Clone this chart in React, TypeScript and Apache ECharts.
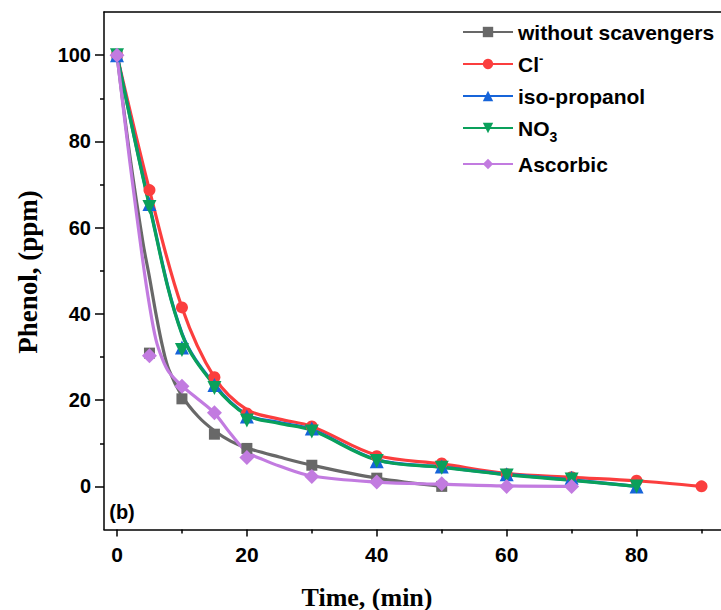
import React, { useEffect, useRef } from "react";
import * as echarts from "echarts";

// ---- data ----
const seriesNames = ["without scavengers", "Cl-", "iso-propanol", "NO3", "Ascorbic"];

// measured points (markers)
const grayPts = [[0, 100], [5, 30.9], [10, 20.3], [15, 12.1], [20, 8.8], [30, 4.9], [40, 1.9], [50, 0]];
const redPts = [[0, 100], [5, 68.7], [10, 41.5], [15, 25.3], [20, 16.9], [30, 13.9], [40, 7.0], [50, 5.3], [60, 2.8], [70, 2.1], [80, 1.3], [90, 0]];
const bluePts = [[0, 100], [5, 65.5], [10, 32.2], [15, 23.5], [20, 16.2], [30, 13.4], [40, 5.8], [50, 4.6], [60, 2.8], [70, 2.0], [80, 0]];
const greenPts = [[0, 100], [5, 64.8], [10, 31.6], [15, 22.8], [20, 15.3], [30, 12.7], [40, 5.9], [50, 4.3], [60, 2.5], [70, 1.6], [80, 0]];
const purplePts = [[0, 100], [5, 30.3], [10, 23.2], [15, 17.1], [20, 6.7], [30, 2.3], [40, 1.0], [50, 0.6], [60, 0], [70, 0]];

// fitted curves
const grayCurve = [[0, 100], [2, 76.5], [4, 56.5], [5, 48.5], [6, 40], [7, 32.5], [8, 27], [10, 21], [12.5, 16.2], [15, 12.9], [17.5, 10.5], [20, 8.9], [25, 6.8], [30, 4.9], [40, 1.9], [50, 0]];
const redCurve = [[0, 100], [5, 68.7], [10, 41.5], [15, 25.3], [20, 17.8], [25, 15.6], [30, 13.9], [40, 7.2], [50, 5.2], [60, 3.0], [70, 2.1], [80, 1.3], [90, 0]];
const blueCurve = [[0, 100], [5, 65.3], [10, 35.5], [15, 23.6], [20, 16.6], [25, 14.8], [30, 13.2], [40, 6.2], [50, 4.5], [60, 2.8], [70, 1.5], [80, 0]];
const greenCurve = [[0, 100], [5, 65], [10, 35.3], [15, 23.4], [20, 16.5], [25, 14.6], [30, 13], [40, 6.1], [50, 4.4], [60, 2.7], [70, 1.4], [80, 0]];
const purpleCurve = [[0, 100], [2, 75], [4, 52], [5, 42], [6, 34], [7, 29.5], [8, 26.5], [10, 23.3], [12.5, 20.2], [15, 17], [17.5, 12.2], [20, 8], [22.5, 6.2], [25, 4.7], [30, 2.4], [40, 1.0], [50, 0.5], [60, 0.1], [70, 0]];

const xLabelTicks = [0, 20, 40, 60, 80];
const xMinorTicks = [10, 30, 50, 70, 90];
const yLabelTicks = [0, 20, 40, 60, 80, 100];
const yMinorTicks = [10, 30, 50, 70, 90];

const colors = ["#686868", "#fb3e3e", "#1664d9", "#0aa05b", "#c27be0"];
const symbols = ["rect", "circle", "triangle", "triangle", "diamond"];
const symbolRotates = [0, 0, 0, 180, 0];
const symbolSizes = [11, 12, 14, 14, 15];

const curves = [grayCurve, redCurve, blueCurve, greenCurve, purpleCurve];
const points = [grayPts, redPts, bluePts, greenPts, purplePts];

export default function App() {
  const ref = useRef<HTMLDivElement>(null);
  useEffect(() => {
    if (!ref.current) return;
    const chart = echarts.init(ref.current, null, { renderer: "svg" });
    const axisFont = { fontFamily: "Liberation Sans, Arial, sans-serif", fontWeight: "bold", color: "#000" };
    const axisLineStyle = { color: "#000", width: 1.5 };

    const curveSeries = seriesNames.map((name, i) => ({
      name,
      type: "line",
      data: curves[i],
      smooth: 0.35,
      showSymbol: false,
      symbol: symbols[i],
      symbolRotate: symbolRotates[i],
      symbolSize: symbolSizes[i],
      lineStyle: { color: colors[i], width: 3.2 },
      itemStyle: { color: colors[i] },
      z: 2,
      silent: true,
    }));
    const pointSeries = seriesNames.map((name, i) => ({
      name,
      type: "scatter",
      data: points[i],
      symbol: symbols[i],
      symbolRotate: symbolRotates[i],
      symbolSize: symbolSizes[i],
      itemStyle: { color: colors[i], opacity: 1 },
      z: 3,
      clip: false,
    }));

    chart.setOption({
      animation: false,
      backgroundColor: "#fff",
      grid: { left: 104, right: 0, top: 12, bottom: 80.5, containLabel: false },
      legend: {
        orient: "vertical",
        left: 462,
        top: 20,
        padding: 0,
        itemWidth: 50,
        itemHeight: 13,
        itemGap: 8,
        data: seriesNames,
        textStyle: {
          fontFamily: "Liberation Sans, Arial, sans-serif",
          fontWeight: "bold",
          fontSize: 21,
          color: "#000",
          lineHeight: 24,
          rich: {
            t: { fontFamily: "Liberation Sans, Arial, sans-serif", fontWeight: "bold", fontSize: 21, color: "#000", lineHeight: 24 },
            sup: { fontFamily: "Liberation Sans, Arial, sans-serif", fontWeight: "bold", fontSize: 13, color: "#000", lineHeight: 24, verticalAlign: "top" },
            sub: { fontFamily: "Liberation Sans, Arial, sans-serif", fontWeight: "bold", fontSize: 14, color: "#000", lineHeight: 24, verticalAlign: "bottom", padding: [0, 0, -4, 0] },
          },
        },
        formatter: (name: string) => {
          if (name === "Cl-") return "{t|Cl}{sup|-}";
          if (name === "NO3") return "{t|NO}{sub|3}";
          return "{t|" + name + "}";
        },
      },
      xAxis: [
        {
          type: "value",
          position: "bottom",
          min: -2,
          max: 93,
          axisLine: { show: true, onZero: false, lineStyle: axisLineStyle },
          axisTick: { show: true, customValues: xLabelTicks, length: 7, lineStyle: axisLineStyle },
          axisLabel: { show: true, customValues: xLabelTicks, margin: 14, fontSize: 21, ...axisFont },
          splitLine: { show: false },
        },
        {
          type: "value",
          position: "bottom",
          min: -2,
          max: 93,
          axisLine: { show: false, onZero: false },
          axisTick: { show: true, customValues: xMinorTicks, length: 4, lineStyle: axisLineStyle },
          axisLabel: { show: false },
          splitLine: { show: false },
        },
        {
          type: "value",
          position: "top",
          min: -2,
          max: 93,
          axisLine: { show: true, onZero: false, lineStyle: axisLineStyle },
          axisTick: { show: false },
          axisLabel: { show: false },
          splitLine: { show: false },
        },
      ],
      yAxis: [
        {
          type: "value",
          position: "left",
          min: -10,
          max: 110,
          axisLine: { show: true, onZero: false, lineStyle: axisLineStyle },
          axisTick: { show: true, customValues: yLabelTicks, length: 9, lineStyle: axisLineStyle },
          axisLabel: { show: true, customValues: yLabelTicks, margin: 13, fontSize: 20, ...axisFont },
          splitLine: { show: false },
        },
        {
          type: "value",
          position: "left",
          min: -10,
          max: 110,
          axisLine: { show: false, onZero: false },
          axisTick: { show: true, customValues: yMinorTicks, length: 4, lineStyle: axisLineStyle },
          axisLabel: { show: false },
          splitLine: { show: false },
        },
      ],
      graphic: [
        {
          type: "text",
          x: 28,
          y: 272,
          rotation: Math.PI / 2,
          style: {
            text: "Phenol, (ppm)",
            font: 'bold 27px "Liberation Serif", "Times New Roman", serif',
            fill: "#000",
            textAlign: "center",
            textVerticalAlign: "middle",
          },
        },
        {
          type: "text",
          x: 367,
          y: 597,
          style: {
            text: "Time, (min)",
            font: 'bold 26px "Liberation Serif", "Times New Roman", serif',
            fill: "#000",
            textAlign: "center",
            textVerticalAlign: "middle",
          },
        },
        {
          type: "text",
          x: 122,
          y: 512,
          style: {
            text: "(b)",
            font: 'bold 20px "Liberation Sans", Arial, sans-serif',
            fill: "#000",
            textAlign: "center",
            textVerticalAlign: "middle",
          },
        },
      ],
      series: [...curveSeries, ...pointSeries],
    });
    return () => chart.dispose();
  }, []);
  return <div ref={ref} style={{ position: "fixed", left: 0, top: 0, width: 721, height: 610 }} />;
}
